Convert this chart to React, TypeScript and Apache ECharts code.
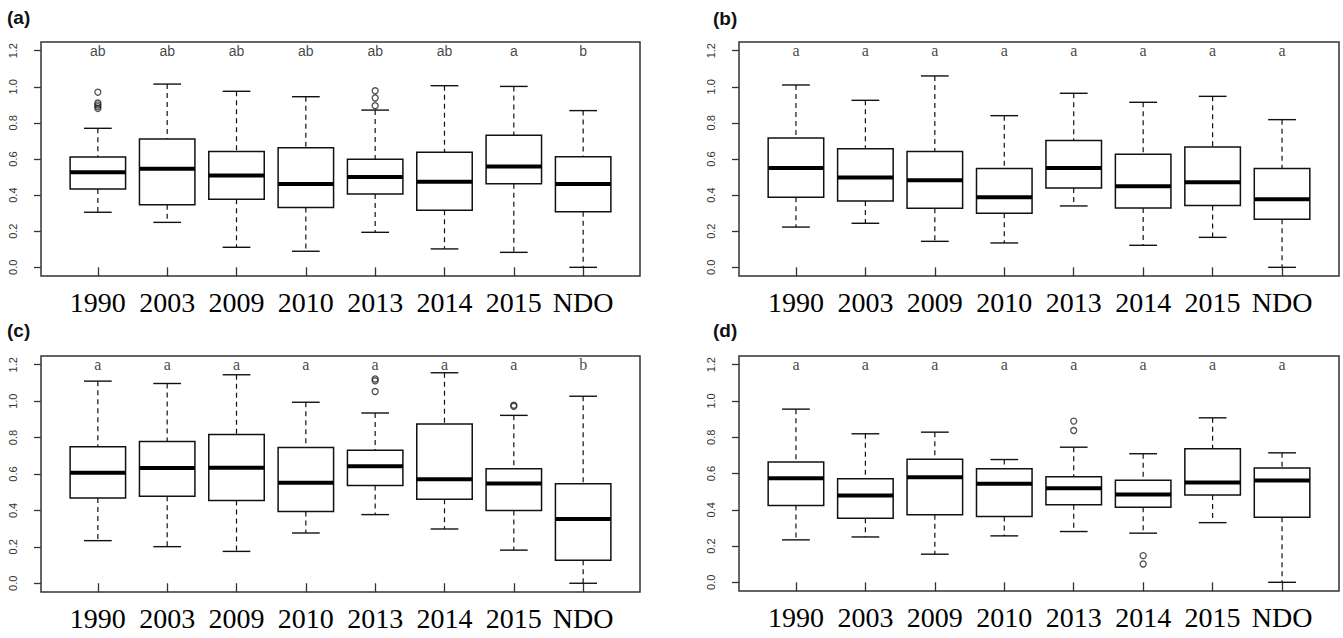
import React, { useEffect, useRef } from "react";
import * as echarts from "echarts";

// ---------- data ----------
const categories = ["1990", "2003", "2009", "2010", "2013", "2014", "2015", "NDO"];
const yTickValues = [0, 0.2, 0.4, 0.6, 0.8, 1.0, 1.2];
const letterLevel = 1.2;

// [lower whisker, Q1, median, Q3, upper whisker]
const statsA = [
  [0.305, 0.434, 0.526, 0.611, 0.770],
  [0.249, 0.347, 0.546, 0.711, 1.015],
  [0.111, 0.377, 0.508, 0.642, 0.975],
  [0.089, 0.332, 0.462, 0.663, 0.945],
  [0.194, 0.406, 0.500, 0.598, 0.871],
  [0.102, 0.316, 0.474, 0.637, 1.006],
  [0.083, 0.463, 0.558, 0.731, 1.002],
  [0.000, 0.308, 0.462, 0.613, 0.868],
];
const outliersA = [
  [1, 0.97], [1, 0.91], [1, 0.90], [1, 0.89], [1, 0.88],
  [5, 0.978], [5, 0.938], [5, 0.895],
];
const lettersA = ["ab", "ab", "ab", "ab", "ab", "ab", "a", "b"];

const statsB = [
  [0.223, 0.388, 0.550, 0.716, 1.010],
  [0.244, 0.367, 0.498, 0.657, 0.925],
  [0.144, 0.327, 0.482, 0.641, 1.060],
  [0.135, 0.299, 0.388, 0.548, 0.840],
  [0.340, 0.439, 0.550, 0.703, 0.964],
  [0.122, 0.329, 0.449, 0.626, 0.914],
  [0.166, 0.343, 0.471, 0.666, 0.947],
  [0.000, 0.266, 0.377, 0.548, 0.818],
];
const outliersB: number[][] = [];
const lettersB = ["a", "a", "a", "a", "a", "a", "a", "a"];

const statsC = [
  [0.234, 0.468, 0.607, 0.749, 1.110],
  [0.201, 0.478, 0.633, 0.779, 1.097],
  [0.175, 0.455, 0.635, 0.817, 1.145],
  [0.276, 0.394, 0.552, 0.745, 0.994],
  [0.377, 0.537, 0.642, 0.731, 0.935],
  [0.298, 0.462, 0.571, 0.874, 1.156],
  [0.182, 0.399, 0.548, 0.629, 0.922],
  [0.000, 0.127, 0.353, 0.547, 1.027],
];
const outliersC = [
  [5, 1.122], [5, 1.112], [5, 1.053],
  [7, 0.978], [7, 0.972],
];
const lettersC = ["a", "a", "a", "a", "a", "a", "a", "b"];

const statsD = [
  [0.234, 0.423, 0.574, 0.663, 0.955],
  [0.250, 0.353, 0.479, 0.571, 0.819],
  [0.155, 0.372, 0.580, 0.679, 0.828],
  [0.256, 0.363, 0.543, 0.626, 0.677],
  [0.280, 0.427, 0.519, 0.582, 0.745],
  [0.271, 0.414, 0.484, 0.563, 0.709],
  [0.329, 0.482, 0.550, 0.736, 0.907],
  [0.000, 0.359, 0.561, 0.631, 0.714],
];
const outliersD = [
  [5, 0.889], [5, 0.837],
  [6, 0.147], [6, 0.101],
];
const lettersD = ["a", "a", "a", "a", "a", "a", "a", "a"];

const panelTitles = ["(a)", "(b)", "(c)", "(d)"];

// ---------- layout / style ----------
const panels = [
  { stats: statsA, outliers: outliersA, letters: lettersA, letterFont: '"Liberation Sans"', letterSize: 14, grid: { left: 41, top: 42, width: 599, height: 234 }, title: { left: 7, top: 8 } },
  { stats: statsB, outliers: outliersB, letters: lettersB, letterFont: '"Liberation Serif"', letterSize: 16, grid: { left: 739, top: 42, width: 600, height: 234 }, title: { left: 713, top: 9 } },
  { stats: statsC, outliers: outliersC, letters: lettersC, letterFont: '"Liberation Serif"', letterSize: 16, grid: { left: 41, top: 356, width: 599, height: 236 }, title: { left: 7, top: 321 } },
  { stats: statsD, outliers: outliersD, letters: lettersD, letterFont: '"Liberation Serif"', letterSize: 16, grid: { left: 739, top: 356, width: 600, height: 235 }, title: { left: 713, top: 321 } },
];

const X_MIN = 0.18;
const X_MAX = 8.82;
const Y_MIN = -0.048;
const Y_MAX = 1.248;
const BOX_HALF = 0.4;
const CAP_HALF = 0.2;

function renderBox(params: any, api: any) {
  const x = api.value(0);
  const lo = api.coord([x, api.value(1)]);
  const q1 = api.coord([x, api.value(2)]);
  const md = api.coord([x, api.value(3)]);
  const q3 = api.coord([x, api.value(4)]);
  const hi = api.coord([x, api.value(5)]);
  const half = api.size([BOX_HALF, 0])[0];
  const cap = api.size([CAP_HALF, 0])[0];
  const cx = lo[0];
  const dash = { stroke: "#111", lineWidth: 1.2, lineDash: [5, 4] };
  const solid = { stroke: "#111", lineWidth: 1.4 };
  return {
    type: "group",
    children: [
      { type: "line", shape: { x1: cx, y1: hi[1], x2: cx, y2: q3[1] }, style: dash },
      { type: "line", shape: { x1: cx, y1: q1[1], x2: cx, y2: lo[1] }, style: dash },
      { type: "line", shape: { x1: cx - cap, y1: hi[1], x2: cx + cap, y2: hi[1] }, style: solid },
      { type: "line", shape: { x1: cx - cap, y1: lo[1], x2: cx + cap, y2: lo[1] }, style: solid },
      { type: "rect", shape: { x: cx - half, y: q3[1], width: 2 * half, height: q1[1] - q3[1] }, style: { fill: "#fff", stroke: "#111", lineWidth: 1.5 } },
      { type: "line", shape: { x1: cx - half, y1: md[1], x2: cx + half, y2: md[1] }, style: { stroke: "#000", lineWidth: 4 } },
    ],
  };
}

function buildOption() {
  const xPositions = categories.map((_, i) => i + 1);
  const grid: any[] = [];
  const xAxis: any[] = [];
  const yAxis: any[] = [];
  const series: any[] = [];
  const graphic: any[] = [];

  panels.forEach((p, k) => {
    grid.push({ ...p.grid, show: true, borderColor: "#333", borderWidth: 1.5, backgroundColor: "#fff" });
    xAxis.push({
      gridIndex: k,
      type: "value",
      min: X_MIN,
      max: X_MAX,
      axisLine: { show: false },
      splitLine: { show: false },
      axisTick: { show: true, length: 9, customValues: xPositions, lineStyle: { color: "#333", width: 1.3 } },
      axisLabel: {
        show: true,
        customValues: xPositions,
        margin: 12,
        fontFamily: '"Liberation Serif"',
        fontSize: 28,
        color: "#000",
        formatter: (v: number) => categories[Math.round(v) - 1] ?? "",
      },
    });
    yAxis.push({
      gridIndex: k,
      type: "value",
      min: Y_MIN,
      max: Y_MAX,
      axisLine: { show: false },
      splitLine: { show: false },
      axisTick: { show: true, length: 7, customValues: yTickValues, lineStyle: { color: "#333", width: 1.3 } },
      axisLabel: {
        show: true,
        customValues: yTickValues,
        rotate: 90,
        margin: 23,
        fontFamily: '"Liberation Sans"',
        fontSize: 11,
        color: "#333",
        formatter: (v: number) => v.toFixed(1),
      },
    });
    series.push({
      type: "custom",
      xAxisIndex: k,
      yAxisIndex: k,
      renderItem: renderBox,
      encode: { x: 0, y: [1, 2, 3, 4, 5] },
      data: p.stats.map((s, i) => [i + 1, ...s]),
      z: 2,
    });
    series.push({
      type: "scatter",
      xAxisIndex: k,
      yAxisIndex: k,
      symbol: "circle",
      symbolSize: 6,
      itemStyle: { color: "rgba(0,0,0,0)", borderColor: "#222", borderWidth: 1.3 },
      data: p.outliers,
      z: 3,
    });
    series.push({
      type: "scatter",
      xAxisIndex: k,
      yAxisIndex: k,
      symbolSize: 1,
      itemStyle: { color: "rgba(0,0,0,0)" },
      label: {
        show: true,
        position: "inside",
        formatter: (q: any) => q.name,
        fontFamily: p.letterFont,
        fontSize: p.letterSize,
        color: "#111",
      },
      data: p.letters.map((l, i) => ({ name: l, value: [i + 1, letterLevel] })),
      z: 4,
    });
    graphic.push({
      type: "text",
      left: p.title.left,
      top: p.title.top,
      style: { text: panelTitles[k], font: 'bold 19px "Liberation Sans"', fill: "#111" },
    });
  });

  return {
    animation: false,
    backgroundColor: "#fff",
    grid,
    xAxis,
    yAxis,
    series,
    graphic,
  };
}

export default function App() {
  const ref = useRef<HTMLDivElement>(null);
  useEffect(() => {
    if (!ref.current) return;
    const chart = echarts.init(ref.current, undefined, { renderer: "svg" });
    chart.setOption(buildOption() as any);
    return () => chart.dispose();
  }, []);
  return (
    <div
      ref={ref}
      style={{ position: "absolute", left: 0, top: 0, width: 1343, height: 638, background: "#fff" }}
    />
  );
}
